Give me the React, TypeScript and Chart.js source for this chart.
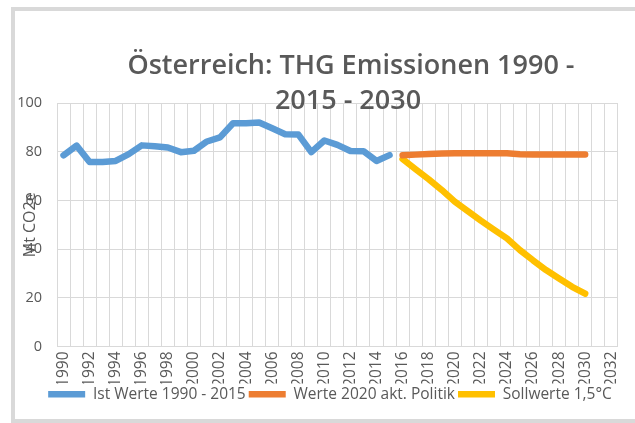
import React, { useEffect, useRef } from "react";
import { Chart, registerables } from "chart.js";

Chart.register(...registerables);

const categories = [
  "1990", "1991", "1992", "1993", "1994", "1995", "1996", "1997", "1998", "1999",
  "2000", "2001", "2002", "2003", "2004", "2005", "2006", "2007", "2008", "2009",
  "2010", "2011", "2012", "2013", "2014", "2015", "2016", "2017", "2018", "2019",
  "2020", "2021", "2022", "2023", "2024", "2025", "2026", "2027", "2028", "2029",
  "2030", "2031", "2032",
];

// Ist Werte 1990 - 2015
const istWerte = [
  78.5, 82.5, 75.8, 75.8, 76.2, 79.0, 82.6, 82.2, 81.7, 79.8,
  80.4, 84.2, 85.9, 91.7, 91.7, 92.0, 89.6, 87.2, 87.1, 79.8,
  84.6, 82.8, 80.3, 80.2, 76.2, 78.6,
];
// Werte 2020 akt. Politik (2016 - 2030)
const politikWerte = [
  78.5, 78.8, 79.1, 79.3, 79.4, 79.4, 79.4, 79.4, 79.4, 79.0,
  78.8, 78.8, 78.8, 78.8, 78.8,
];
// Sollwerte 1,5°C (2016 - 2030)
const sollWerte = [
  77.0, 72.8, 68.7, 64.3, 59.5, 55.6, 51.7, 48.0, 44.4, 39.6,
  35.4, 31.4, 27.9, 24.5, 21.7,
];

const istStart = "1990";
const prognoseStart = "2016";

const yTicks = [0, 20, 40, 60, 80, 100];
const titleLines = ["Österreich: THG Emissionen 1990 -", "2015 - 2030"];
const yTitle = "Mt CO2e";
const seriesNames = ["Ist Werte 1990 - 2015", "Werte 2020 akt. Politik", "Sollwerte 1,5°C"];
const seriesColors = ["#5B9BD5", "#ED7D31", "#FFC000"];

const FONT = '"Open Sans", "Noto Sans", sans-serif';
const TEXT = "#595959";
const GRID = "#d9d9d9";

function place(values: number[], start: string): (number | null)[] {
  const s = categories.indexOf(start);
  return categories.map((_, i) => (i >= s && i - s < values.length ? values[i - s] : null));
}

const titlePlugin = {
  id: "excelTitle",
  afterLayout(chart: any) {
    // Excel centres the legend a little right of the canvas centre
    if (chart.legend) chart.legend.left = 38;
  },
  afterDraw(chart: any) {
    const ctx = chart.ctx;
    ctx.save();
    ctx.fillStyle = TEXT;
    ctx.font = `600 27px ${FONT}`;
    ctx.textAlign = "center";
    ctx.textBaseline = "alphabetic";
    ctx.fillText(titleLines[0], 351, 74);
    ctx.fillText(titleLines[1], 348, 109);
    ctx.restore();
  },
};

export default function App() {
  const ref = useRef<HTMLCanvasElement>(null);

  useEffect(() => {
    if (!ref.current) return;
    const mk = (i: number, data: (number | null)[]) => ({
      label: seriesNames[i],
      data,
      borderColor: seriesColors[i],
      backgroundColor: seriesColors[i],
      borderWidth: 6.5,
      borderCapStyle: "round" as const,
      borderJoinStyle: "round" as const,
      pointRadius: 0,
      pointHoverRadius: 0,
      pointStyle: "line" as const,
      tension: 0,
      spanGaps: false,
    });
    const chart = new Chart(ref.current, {
      type: "line",
      data: {
        labels: categories,
        datasets: [
          mk(0, place(istWerte, istStart)),
          mk(1, place(politikWerte, prognoseStart)),
          mk(2, place(sollWerte, prognoseStart)),
        ],
      },
      plugins: [titlePlugin],
      options: {
        animation: false,
        responsive: false,
        events: [],
        layout: { padding: { left: 0, right: 13, top: 103, bottom: 11 } },
        plugins: {
          title: { display: false },
          tooltip: { enabled: false },
          legend: {
            display: true,
            position: "bottom",
            labels: {
              usePointStyle: true,
              pointStyle: "line",
              pointStyleWidth: 37,
              padding: 3,
              color: TEXT,
              font: { family: FONT, size: 15.5 },
            },
          },
        },
        scales: {
          x: {
            type: "category",
            offset: true,
            grid: { color: GRID, lineWidth: 1, offset: true, drawTicks: false },
            border: { display: true, color: GRID },
            afterFit: (s: any) => {
              s.height = 37;
            },
            ticks: {
              autoSkip: false,
              minRotation: 90,
              maxRotation: 90,
              padding: 5,
              color: TEXT,
              font: { family: FONT, size: 15.5 },
              callback: (_v: any, i: number) => (i % 2 === 0 ? categories[i] : ""),
            },
          },
          y: {
            min: yTicks[0],
            max: yTicks[yTicks.length - 1],
            grid: { color: GRID, lineWidth: 1, drawTicks: false },
            border: { display: false },
            afterFit: (s: any) => {
              s.width = 57;
            },
            afterBuildTicks: (s: any) => {
              s.ticks = yTicks.map((v) => ({ value: v }));
            },
            ticks: {
              padding: 15,
              color: TEXT,
              font: { family: FONT, size: 14.5 },
            },
            title: {
              display: true,
              text: yTitle,
              color: TEXT,
              font: { family: FONT, size: 16 },
              padding: { top: 21, bottom: 0 },
            },
          },
        },
      },
    });
    return () => chart.destroy();
  }, []);

  return (
    <div style={{ position: "absolute", left: 0, top: 0, width: 635, height: 423, background: "#fff" }}>
      <div
        style={{
          position: "absolute",
          left: 11,
          top: 7,
          width: 624,
          height: 416,
          boxSizing: "border-box",
          borderLeft: `4px solid ${GRID}`,
          borderTop: `4px solid ${GRID}`,
          borderBottom: `4px solid ${GRID}`,
        }}
      />
      <canvas ref={ref} width={635} height={423} style={{ position: "absolute", left: 0, top: 0 }} />
    </div>
  );
}
